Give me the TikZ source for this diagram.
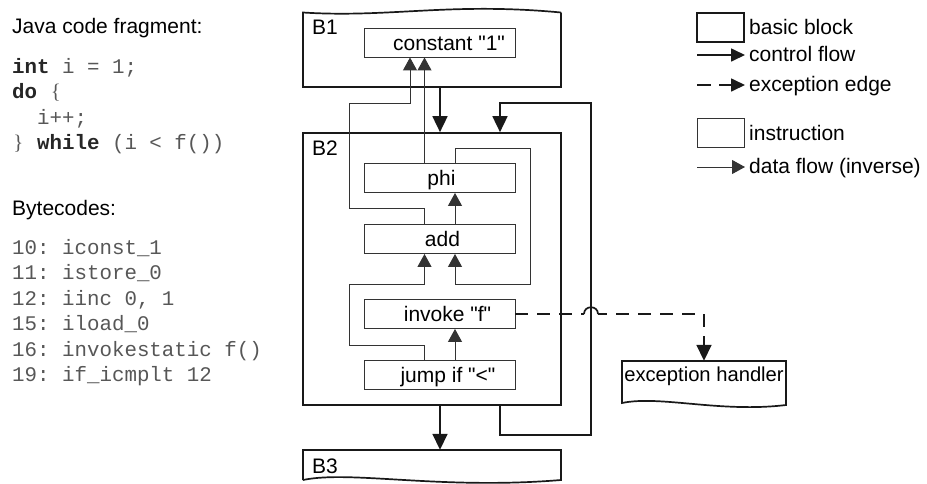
\documentclass[tikz,border=0pt]{standalone}
\usepackage{fontspec}
\setmainfont{Liberation Sans}
\setmonofont{Liberation Mono}
\newfontfamily\bracefont{Liberation Serif}
\usetikzlibrary{arrows.meta,calc}
\newcommand\brc[1]{\makebox[0.6em]{\bracefont #1}}
\newcommand\kw[1]{{\bfseries\color{black!85}#1}}
\newcommand\qq{\textquotedbl}
\begin{document}
\begin{tikzpicture}[x=1pt,y=-1pt,
  every node/.style={inner sep=0pt, font=\fontsize{21}{24}\selectfont},
  blk/.style={line width=1.7pt, draw=black!90},
  blknode/.style={rectangle, inner sep=0pt},
  instr/.style={draw=black!80, line width=0.9pt, rectangle, minimum width=151pt,
    minimum height=29pt, text height=17pt, text depth=2pt},
  ctrl/.style={line width=1.7pt, draw=black!90, -{Triangle[length=16pt,width=15pt]}},
  dflow/.style={line width=1pt, draw=black!80, -{Triangle[length=13pt,width=14pt]}},
  excf/.style={line width=1.7pt, draw=black!90, dash pattern=on 13pt off 9pt},
  code/.style={anchor=base west, font=\fontsize{20.8}{24}\ttfamily, text=black!66},
  lbl/.style={anchor=base west},
]
\useasboundingbox (0,0) rectangle (927,483);

% ---------------- left column: source and bytecodes
\node[lbl] (title1) at (12,33) {Java code fragment:};
\node[code] (j1) at (12,73) {\kw{int} i = 1;};
\node[code] (j2) at (12,98.5) {\kw{do} \brc{\{}};
\node[code] (j3) at (37,124) {i++;};
\node[code] (j4) at (12,149.5) {\brc{\}} \kw{while} (i < f())};

\node[lbl] (title2) at (12,215) {Bytecodes:};
\node[code] (b1) at (12,254) {10: iconst\_1};
\node[code] (b2) at (12,279.5) {11: istore\_0};
\node[code] (b3) at (12,305) {12: iinc 0, 1};
\node[code] (b4) at (12,330.5) {15: iload\_0};
\node[code] (b5) at (12,356) {16: invokestatic f()};
\node[code] (b6) at (12,381.5) {19: if\_icmplt 12};

% ---------------- basic blocks
\node[blknode, minimum width=258pt, minimum height=75pt] (B1) at (432,49.5) {};
\draw[blk] (561,12.5) -- (561,87) -- (303,87) -- (303,12.5)
  .. controls (390,18) and (450,2) .. (561,12.5);
\node[lbl] (B1l) at (312,34) {B1};

\node[blknode, draw, blk, minimum width=258pt, minimum height=272pt] (B2) at (432,269) {};
\node[lbl] (B2l) at (312,155) {B2};

\node[blknode, minimum width=258pt, minimum height=33pt] (B3) at (432,466.5) {};
\draw[blk] (303,480) -- (303,450) -- (561,450) -- (561,480)
  .. controls (440,490) and (350,470) .. (303,480);
\node[lbl] (B3l) at (312,473) {B3};

% ---------------- instructions
\node[instr] (const)  at (439.5,42.5) {\hspace*{19pt}constant \qq1\qq};
\node[instr] (phi)    at (439.5,178)  {\hspace*{4pt}phi};
\node[instr] (add)    at (439.5,239)  {\hspace*{6pt}add};
\node[instr] (invoke) at (439.5,314)  {\hspace*{16pt}invoke \qq f\qq};
\node[instr] (jump)   at (439.5,375)  {\hspace*{17pt}jump if \qq<\qq};

% ---------------- exception handler
\node[blknode, minimum width=164pt, minimum height=44pt] (handler) at (704,383) {};
\draw[blk] (786,361) -- (786,405) .. controls (720,413) and (660,395) .. (622,403)
  -- (622,361) -- cycle;
\node[anchor=base, font=\fontsize{20.2}{24}\selectfont] (handlerl) at (704,381) {exception handler};

% ---------------- helper coordinates
\coordinate (ax) at (440,0);
\coordinate (lb) at (500,435);
\coordinate (lt) at (591,103);
\coordinate (xa) at (424.5,0);
\coordinate (xb) at (455,0);
\coordinate (p1) at (349,208);
\coordinate (p2) at (410,103);
\coordinate (q1) at (530,148);
\coordinate (q2) at (455,284);
\coordinate (r1) at (349,345);
\coordinate (r2) at (424.5,284);
\coordinate (ec) at (704,314);
\coordinate (brA) at ($(invoke.east -| lt)+(-7,0)$);
\coordinate (brB) at ($(invoke.east -| lt)+(7,0)$);

% ---------------- control flow
\draw[ctrl] (B1.south -| ax) -- (B2.north -| ax);
\draw[ctrl] (B2.south -| ax) -- (B3.north -| ax);
\draw[ctrl] (B2.south -| lb) -- (lb) -| (lt) -| (B2.north -| lb);

% ---------------- data flow (inverse)
\draw[dflow] (add.north -| xa) |- (p1) |- (p2) -- (const.south -| p2);
\draw[dflow] (phi.north -| xa) -- (const.south -| xa);
\draw[dflow] (add.north -| xb) -- (phi.south -| xb);
\draw[dflow] (phi.north -| xb) |- (q1) |- (q2) -- (add.south -| xb);
\draw[dflow] (jump.north -| xa) |- (r1) |- (r2) -- (add.south -| xa);
\draw[dflow] (jump.north -| xb) -- (invoke.south -| xb);

% ---------------- exception edge with bridge over the loop line
\draw[excf] (invoke.east) -- (brA);
\draw[line width=1.7pt, draw=black!90] (brA) .. controls +(0,-9) and +(0,-9) .. (brB);
\draw[excf, dash phase=4pt, -{Triangle[length=16pt,width=15pt]}] (brB) -- (ec) -- (handler.north);

% ---------------- legend
\node[blknode, draw, blk, minimum width=47pt, minimum height=29pt] (legbb) at (720.5,27.5) {};
\node[lbl] (legbbt) at (749,34) {basic block};
\coordinate (lc1) at (697,55);
\coordinate (lc2) at (745,55);
\draw[ctrl, -{Triangle[length=14pt,width=13pt]}] (lc1) -- (lc2);
\node[lbl] (lct) at (749,61) {control flow};
\coordinate (le1) at (697,85);
\coordinate (le2) at (745,85);
\draw[line width=1.7pt, draw=black!90, dash pattern=on 14pt off 8pt,
  -{Triangle[length=14pt,width=13pt]}] (le1) -- (le2);
\node[lbl] (let) at (749,91) {exception edge};
\node[draw=black!80, line width=0.9pt, rectangle, minimum width=47pt, minimum height=29pt] (legin) at (720.5,132.5) {};
\node[lbl] (legint) at (749,140) {instruction};
\coordinate (ld1) at (697,167);
\coordinate (ld2) at (745,167);
\draw[dflow] (ld1) -- (ld2);
\node[lbl] (ldt) at (749,173) {data flow (inverse)};
\end{tikzpicture}
\end{document}
